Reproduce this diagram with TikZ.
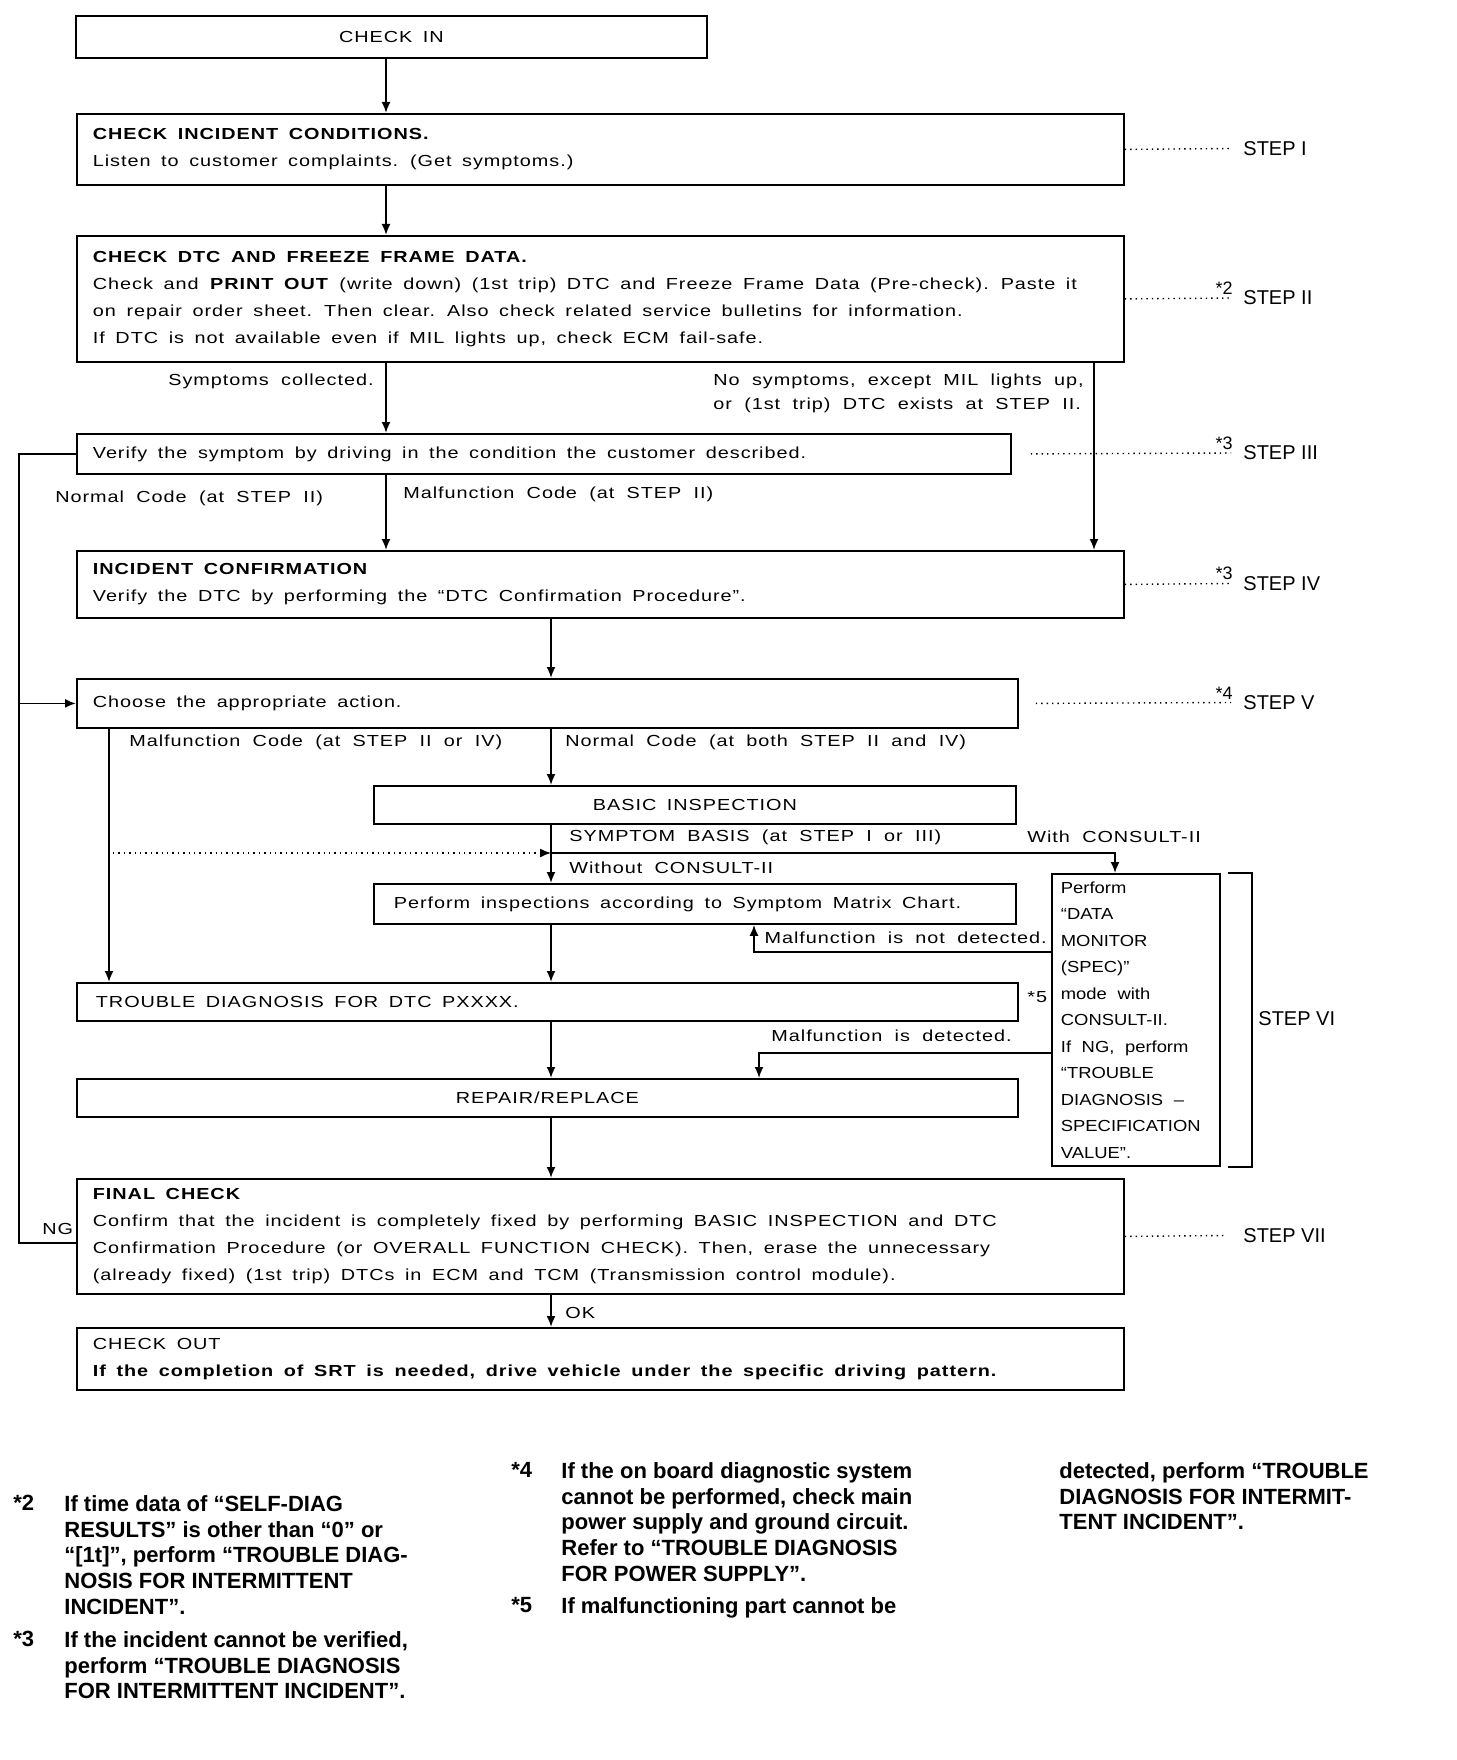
\documentclass[tikz,border=0pt]{standalone}
\usepackage{fontspec}
\setmainfont{Liberation Sans}[FakeStretch=1.24, LetterSpace=6, WordSpace=1.9]
\newfontfamily\stepfont{Liberation Sans}
\newfontfamily\narrowfont{Liberation Sans}[FakeStretch=1.15, WordSpace=1.8]
\newfontfamily\notefont{Liberation Sans}
\usetikzlibrary{arrows.meta, positioning, calc}

\begin{document}
\begin{tikzpicture}[
    x=0.5pt, y=-0.5pt,
    box/.style={draw, line width=0.9pt, rectangle, anchor=north west, inner ysep=2pt, font=\fontsize{8}{13.5}\selectfont,
        execute at begin node={\spaceskip=5.3pt plus 1pt minus 0.5pt\xspaceskip=6pt plus 1pt}},
    leftbox/.style={box, align=left, inner xsep=8pt},
    midbox/.style={box, align=center},
    link/.style={line width=0.9pt},
    arr/.style={link, -{Latex[length=5.5pt, width=4.5pt]}},
    lbl/.style={inner sep=1pt, font=\fontsize{8}{12}\selectfont},
    stepline/.style={dotted, line width=0.7pt},
    steplbl/.style={anchor=west, inner sep=1pt, font=\stepfont\fontsize{10}{12}\selectfont},
    starlbl/.style={anchor=south east, inner sep=0pt, font=\stepfont\fontsize{9}{10}\selectfont},
    note/.style={anchor=north west, align=left, inner sep=0pt, font=\notefont\bfseries\fontsize{11}{12.9}\selectfont}
]
    \useasboundingbox (0,0) rectangle (1456,1760);

    \node[midbox, minimum width=315.5pt, minimum height=21pt] (checkin) at (75,15) {CHECK IN};
    \node[leftbox, text width=507.5pt, minimum height=35.5pt] (stepone) at (76,113) {\textbf{CHECK INCIDENT CONDITIONS.}\\Listen to customer complaints. (Get symptoms.)};
    \node[leftbox, text width=507.5pt, minimum height=63pt] (steptwo) at (76,235) {\textbf{CHECK DTC AND FREEZE FRAME DATA.}\\Check and \textbf{PRINT OUT} (write down) (1st trip) DTC and Freeze Frame Data (Pre-check). Paste it\\on repair order sheet. Then clear. Also check related service bulletins for information.\\If DTC is not available even if MIL lights up, check ECM fail-safe.};
    \node[leftbox, text width=451pt, minimum height=20pt] (stepthree) at (76,433) {Verify the symptom by driving in the condition the customer described.};
    \node[leftbox, text width=507.5pt, minimum height=33.5pt] (stepfour) at (76,550) {\textbf{INCIDENT CONFIRMATION}\\Verify the DTC by performing the “DTC Confirmation Procedure”.};
    \node[leftbox, text width=454.5pt, minimum height=24.5pt] (stepfive) at (76,678) {Choose the appropriate action.};
    \node[midbox, minimum width=321pt, minimum height=19pt] (basic) at (373,785) {BASIC INSPECTION};
    \node[leftbox, inner xsep=10pt, text width=301pt, minimum height=20pt] (matrix) at (373,883) {Perform inspections according to Symptom Matrix Chart.};
    \node[leftbox, inner xsep=9.5pt, text width=451.5pt, minimum height=19pt] (trouble) at (76,982) {TROUBLE DIAGNOSIS FOR DTC PXXXX.};
    \node[midbox, minimum width=470.5pt, minimum height=19pt] (repair) at (76,1078) {REPAIR/REPLACE};
    \node[leftbox, inner xsep=4.5pt, text width=75pt, minimum height=146pt, font=\narrowfont\fontsize{8}{13.25}\selectfont] (consult) at (1051,873) {Perform\\“DATA\\MONITOR\\(SPEC)”\\mode with\\CONSULT-II.\\If NG, perform\\“TROUBLE\\DIAGNOSIS –\\SPECIFICATION\\VALUE”.};
    \node[leftbox, text width=507.5pt, minimum height=57.5pt] (finalcheck) at (76,1178) {\textbf{FINAL CHECK}\\Confirm that the incident is completely fixed by performing BASIC INSPECTION and DTC\\Confirmation Procedure (or OVERALL FUNCTION CHECK). Then, erase the unnecessary\\(already fixed) (1st trip) DTCs in ECM and TCM (Transmission control module).};
    \node[leftbox, text width=507.5pt, minimum height=31pt] (checkout) at (76,1327) {CHECK OUT\\\textbf{If the completion of SRT is needed, drive vehicle under the specific driving pattern.}};

    \coordinate (mainx) at (386,0);
    \coordinate (rightx) at (1094,0);
    \coordinate (midx) at (551,0);
    \coordinate (malx) at (109,0);
    \coordinate (loopx) at (19,0);
    \coordinate (conx) at (1115,0);
    \coordinate (notx) at (754,0);
    \coordinate (detx) at (759,0);
    \coordinate (conrow) at (0,853);
    \coordinate (dotstart) at (113,853);
    \coordinate (notrow) at (0,952);
    \coordinate (detrow) at (0,1053);
    \coordinate (ngrow) at (0,1243);

    \draw[arr] (checkin.south -| mainx) -- (stepone.north -| mainx);
    \draw[arr] (stepone.south -| mainx) -- (steptwo.north -| mainx);
    \draw[arr] (steptwo.south -| mainx) -- (stepthree.north -| mainx);
    \draw[arr] (steptwo.south -| rightx) -- (stepfour.north -| rightx);
    \draw[arr] (stepthree.south -| mainx) -- (stepfour.north -| mainx);
    \draw[arr] (stepfour.south -| midx) -- (stepfive.north -| midx);
    \draw[arr] (stepfive.south -| midx) -- (basic.north -| midx);
    \draw[arr] (basic.south -| midx) -- (matrix.north -| midx);
    \draw[arr] (midx |- conrow) -| (consult.north -| conx);
    \draw[stepline, -{Latex[length=5.5pt, width=4.5pt]}] (dotstart) -- (midx |- conrow);
    \draw[arr] (stepfive.south -| malx) -- (trouble.north -| malx);
    \draw[arr] (matrix.south -| midx) -- (trouble.north -| midx);
    \draw[arr] (consult.west |- notrow) -| (matrix.south -| notx);
    \draw[arr] (trouble.south -| midx) -- (repair.north -| midx);
    \draw[arr] (consult.west |- detrow) -| (repair.north -| detx);
    \draw[arr] (repair.south -| midx) -- (finalcheck.north -| midx);
    \draw[arr] (finalcheck.south -| midx) -- (checkout.north -| midx);
    \draw[link] (stepthree.west) -| (loopx |- ngrow) -- (finalcheck.west |- ngrow);
    \draw[arr] (loopx |- stepfive.west) -- (stepfive.west);

    \node[lbl, anchor=east] (symlbl) at (376,381) {Symptoms collected.};
    \node[lbl, anchor=west, align=left] (nosymlbl) at (711,393) {No symptoms, except MIL lights up,\\or (1st trip) DTC exists at STEP II.};
    \node[lbl, anchor=west] (normlbl) at (53,498) {Normal Code (at STEP II)};
    \node[lbl, anchor=west] (mallbl) at (401,494) {Malfunction Code (at STEP II)};
    \node[lbl, anchor=west] (malbothlbl) at (127,742) {Malfunction Code (at STEP II or IV)};
    \node[lbl, anchor=west] (normbothlbl) at (563,742) {Normal Code (at both STEP II and IV)};
    \node[lbl, anchor=west] (symbaslbl) at (567,837) {SYMPTOM BASIS (at STEP I or III)};
    \node[lbl, anchor=west] (withlbl) at (1025,837) {With CONSULT-II};
    \node[lbl, anchor=west] (withoutlbl) at (567,868) {Without CONSULT-II};
    \node[lbl, anchor=east] (notdetlbl) at (1049,938) {Malfunction is not detected.};
    \node[lbl, anchor=west] (fivelbl) at (1025,997) {*5};
    \node[lbl, anchor=west] (detlbl) at (769,1036) {Malfunction is detected.};
    \node[lbl, anchor=west] (nglbl) at (40,1229) {NG};
    \node[lbl, anchor=west] (oklbl) at (563,1313) {OK};

    \node[steplbl] (labone) at (1241,148.5) {STEP I};
    \node[steplbl] (labtwo) at (1241,298) {STEP II};
    \node[steplbl] (labthree) at (1241,453) {STEP III};
    \node[steplbl] (labfour) at (1241,583.5) {STEP IV};
    \node[steplbl] (labfive) at (1241,702.5) {STEP V};
    \node[steplbl] (labsix) at (1256,1019) {STEP VI};
    \node[steplbl] (labseven) at (1241,1235.5) {STEP VII};

    \draw[stepline] (stepone.east) -- ([xshift=-5pt]labone.west);
    \draw[stepline] (steptwo.east) -- ([xshift=-5pt]labtwo.west);
    \draw[stepline] ([xshift=9.5pt]stepthree.east) -- ([xshift=-5pt]labthree.west);
    \draw[stepline] (stepfour.east) -- ([xshift=-5pt]labfour.west);
    \draw[stepline] ([xshift=8.5pt]stepfive.east) -- ([xshift=-5pt]labfive.west);
    \draw[stepline] (finalcheck.east) -- ([xshift=-8.5pt]labseven.west);
    \draw[link] ([xshift=3.5pt]consult.north east) -- ++(12pt,0) |- ([xshift=3.5pt]consult.south east);

    \node[starlbl] (startwo) at ([xshift=-4pt, yshift=1.5pt]labtwo.west) {*2};
    \node[starlbl] (starthree) at ([xshift=-4pt, yshift=1.5pt]labthree.west) {*3};
    \node[starlbl] (starfour) at ([xshift=-4pt, yshift=1.5pt]labfour.west) {*3};
    \node[starlbl] (starfive) at ([xshift=-4pt, yshift=1.5pt]labfive.west) {*4};

    \node[note] (markone) at (13,1495) {*2};
    \node[note] (noteone) at (64,1495) {If time data of “SELF-DIAG\\RESULTS” is other than “0” or\\“[1t]”, perform “TROUBLE DIAG-\\NOSIS FOR INTERMITTENT\\INCIDENT”.};
    \node[note] (marktwo) at (13,1631) {*3};
    \node[note] (notetwo) at (64,1631) {If the incident cannot be verified,\\perform “TROUBLE DIAGNOSIS\\FOR INTERMITTENT INCIDENT”.};
    \node[note] (markthree) at (511,1462) {*4};
    \node[note] (notethree) at (561,1462) {If the on board diagnostic system\\cannot be performed, check main\\power supply and ground circuit.\\Refer to “TROUBLE DIAGNOSIS\\FOR POWER SUPPLY”.};
    \node[note] (markfour) at (511,1597) {*5};
    \node[note] (notefour) at (561,1597) {If malfunctioning part cannot be};
    \node[note] (notefive) at (1059,1462) {detected, perform “TROUBLE\\DIAGNOSIS FOR INTERMIT-\\TENT INCIDENT”.};
\end{tikzpicture}
\end{document}
